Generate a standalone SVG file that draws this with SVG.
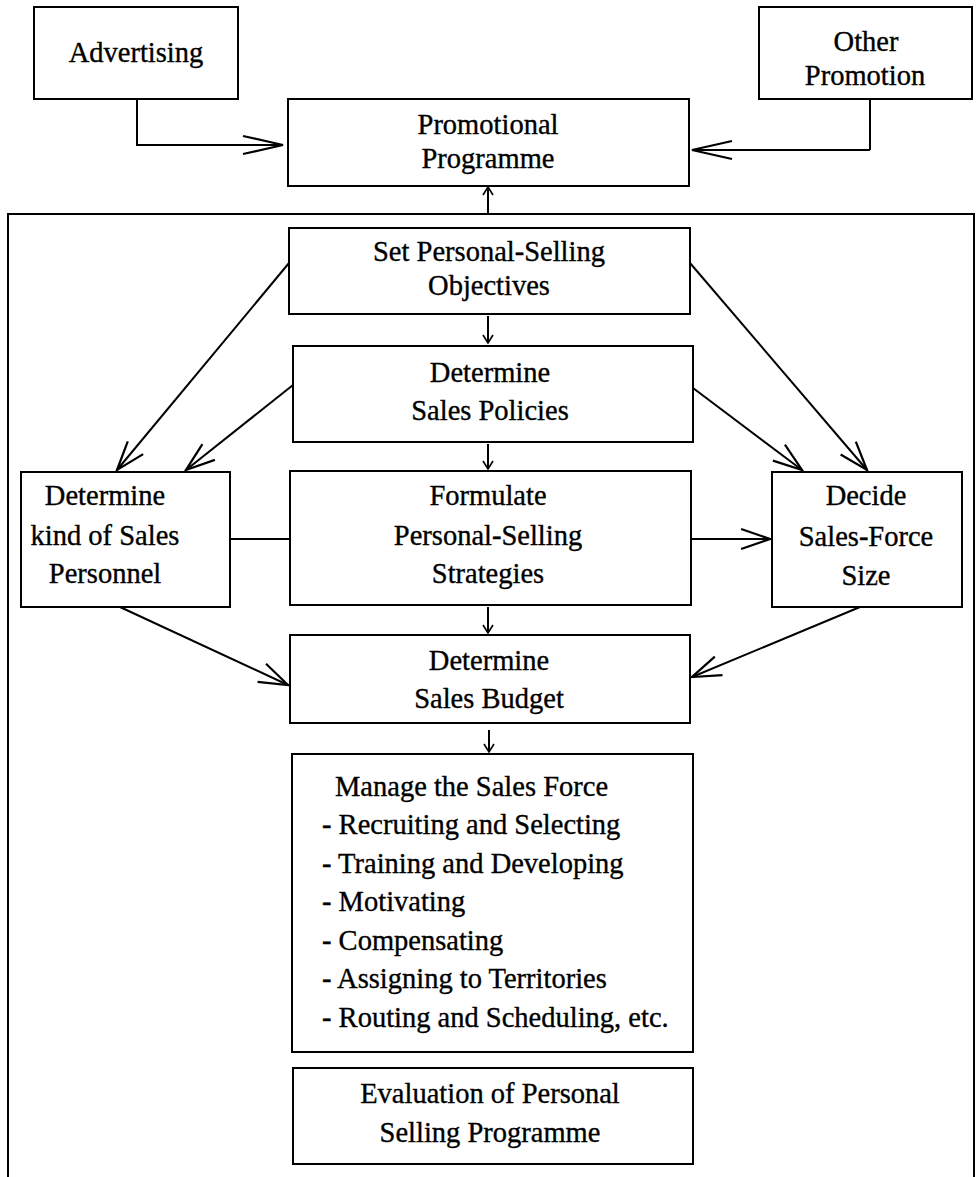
<svg xmlns="http://www.w3.org/2000/svg" width="977" height="1177" viewBox="0 0 977 1177">
<style>
.box{fill:#fff;stroke:#000;stroke-width:2}
.t{font-family:"Liberation Serif","Times New Roman",serif;font-size:28.5px;fill:#000;stroke:#000;stroke-width:0.35}
.c{text-anchor:middle}
.ln{fill:none;stroke:#000;stroke-width:2}
</style>
<defs>
<marker id="lg" markerUnits="userSpaceOnUse" markerWidth="50" markerHeight="30" viewBox="-46 -12 50 24" refX="0" refY="0" orient="auto" overflow="visible"><path d="M-40,-9 L0,0 L-40,9" fill="none" stroke="#000" stroke-width="2.2"/></marker>
<marker id="md" markerUnits="userSpaceOnUse" markerWidth="40" markerHeight="30" viewBox="-34 -12 36 24" refX="0" refY="0" orient="auto" overflow="visible"><path d="M-26,-9 L0,0 L-26,9" fill="none" stroke="#000" stroke-width="2"/></marker>
<marker id="sm" markerUnits="userSpaceOnUse" markerWidth="14" markerHeight="14" viewBox="-10 -7 12 14" refX="0" refY="0" orient="auto" overflow="visible"><path d="M-8,-5 L0,0 L-8,5" fill="none" stroke="#000" stroke-width="1.6"/></marker>
</defs>
<rect width="977" height="1177" fill="#fff"/>

<g id="outer-frame"><path class="ln" d="M8,1180 V214 H974 V1180"/></g>

<g id="connectors">
<path class="ln" d="M137,99 V145 H283" marker-end="url(#lg)"/>
<path class="ln" d="M870,99 V150" stroke-width="1.6"/>
<path class="ln" d="M870,150 H692" stroke-width="3.4" marker-end="url(#lg)"/>
<path class="ln" d="M488,214 V187" stroke-width="1.6" marker-end="url(#sm)"/>
<path class="ln" d="M488,316 V343" stroke-width="1.6" marker-end="url(#sm)"/>
<path class="ln" d="M488,444 V469" stroke-width="1.6" marker-end="url(#sm)"/>
<path class="ln" d="M488,607 V633" stroke-width="1.6" marker-end="url(#sm)"/>
<path class="ln" d="M489,730 V752" stroke-width="1.6" marker-end="url(#sm)"/>
<path class="ln" d="M289,263 L117,470" marker-end="url(#md)"/>
<path class="ln" d="M293,385 L186,470" marker-end="url(#md)"/>
<path class="ln" d="M690,263 L867,470" marker-end="url(#md)"/>
<path class="ln" d="M693,388 L802,470" marker-end="url(#md)"/>
<path class="ln" d="M120,607 L288,685" marker-end="url(#md)"/>
<path class="ln" d="M860,607 L692,677" marker-end="url(#md)"/>
<path class="ln" d="M230,539 H290"/>
<path class="ln" d="M691,539 H770" marker-end="url(#md)"/>
</g>

<g id="advertising"><rect class="box" x="34" y="7" width="204" height="92"/><text class="t c" x="136" y="62">Advertising</text></g>
<g id="other-promotion"><rect class="box" x="759" y="7" width="213" height="92"/><text class="t c" x="866" y="51">Other</text><text class="t c" x="865" y="85">Promotion</text></g>
<g id="promotional-programme"><rect class="box" x="288" y="99" width="401" height="87"/><text class="t c" x="488" y="134">Promotional</text><text class="t c" x="488" y="168">Programme</text></g>
<g id="set-objectives"><rect class="box" x="289" y="228" width="401" height="86"/><text class="t c" x="489" y="261">Set Personal-Selling</text><text class="t c" x="489" y="295">Objectives</text></g>
<g id="sales-policies"><rect class="box" x="293" y="346" width="400" height="96"/><text class="t c" x="490" y="382">Determine</text><text class="t c" x="490" y="420">Sales Policies</text></g>
<g id="kind-of-personnel"><rect class="box" x="21" y="472" width="209" height="135"/><text class="t c" x="105" y="505">Determine</text><text class="t c" x="105" y="545">kind of Sales</text><text class="t c" x="105" y="583">Personnel</text></g>
<g id="strategies"><rect class="box" x="290" y="471" width="401" height="134"/><text class="t c" x="488" y="505">Formulate</text><text class="t c" x="488" y="545">Personal-Selling</text><text class="t c" x="488" y="583">Strategies</text></g>
<g id="sales-force-size"><rect class="box" x="772" y="472" width="190" height="135"/><text class="t c" x="866" y="505">Decide</text><text class="t c" x="866" y="546">Sales-Force</text><text class="t c" x="866" y="585">Size</text></g>
<g id="sales-budget"><rect class="box" x="290" y="635" width="400" height="88"/><text class="t c" x="489" y="670">Determine</text><text class="t c" x="489" y="708">Sales Budget</text></g>
<g id="manage-sales-force"><rect class="box" x="292" y="754" width="401" height="298"/>
<text class="t" x="335" y="796">Manage the Sales Force</text>
<text class="t" x="322" y="834">- Recruiting and Selecting</text>
<text class="t" x="322" y="873">- Training and Developing</text>
<text class="t" x="322" y="911">- Motivating</text>
<text class="t" x="322" y="950">- Compensating</text>
<text class="t" x="322" y="988">- Assigning to Territories</text>
<text class="t" x="322" y="1027">- Routing and Scheduling, etc.</text>
</g>
<g id="evaluation"><rect class="box" x="293" y="1068" width="400" height="96"/><text class="t c" x="490" y="1103">Evaluation of Personal</text><text class="t c" x="490" y="1142">Selling Programme</text></g>
</svg>
